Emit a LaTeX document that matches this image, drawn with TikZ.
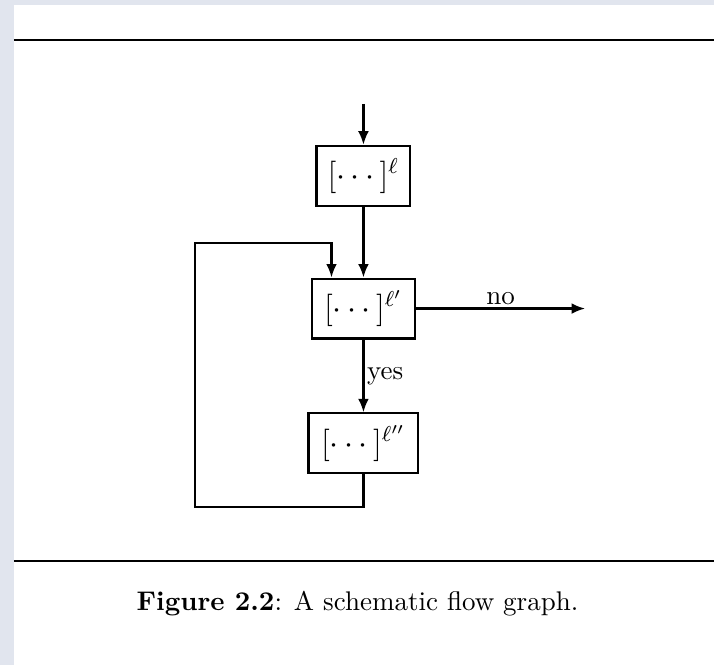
\documentclass[tikz,border=0pt]{standalone}
\usepackage{amsmath, amssymb}
\usetikzlibrary{arrows.meta}
\definecolor{pagegray}{RGB}{225,229,238}

\begin{document}
\begin{tikzpicture}[x=0.37pt,y=-0.37pt,thick,>={Latex[length=5pt,width=4pt]},
                    every node/.style={inner sep=1pt},
                    block/.style={draw,rectangle,minimum height=22.2pt,font=\large}]
                    % page and rules
                    \fill[pagegray] (0,0) rectangle (715,666);
                    \fill[white] (14,5) rectangle (715,666);
                    \draw[line width=0.8pt] (14,40) -- (715,40);
                    \draw[line width=0.8pt] (14,562) -- (715,562);
                    % blocks
                    \node[block,minimum width=34.8pt] (b1) at (364,176) {$[\cdots]^{\ell}$};
                    \node[block,minimum width=38.1pt] (b2) at (364,309) {$[\cdots]^{\ell'}$};
                    \node[block,minimum width=40.7pt] (b3) at (364,444) {$[\cdots]^{\ell''}$};
                    \coordinate (in) at (364,104);
                    \coordinate (out) at (586,309);
                    \coordinate (lbot) at (195,508);
                    \coordinate (ltop) at (195,243);
                    \coordinate (lin) at (332,243);
                    % edges
                    \draw[->] (in) -- (b1);
                    \draw[->] (b1) -- (b2);
                    \draw[->] (b2) -- (out) node[midway, above] {no};
                    \draw[->] (b2) -- (b3) node[midway, right] {yes};
                    \draw[->] (b3.south) |- (lbot) -- (ltop) -- (lin) -- (lin |- b2.north);
                    % caption
                    \node (caption) at (358,605) {\textbf{Figure 2.2}: A schematic flow graph.};
                \end{tikzpicture}
\end{document}
